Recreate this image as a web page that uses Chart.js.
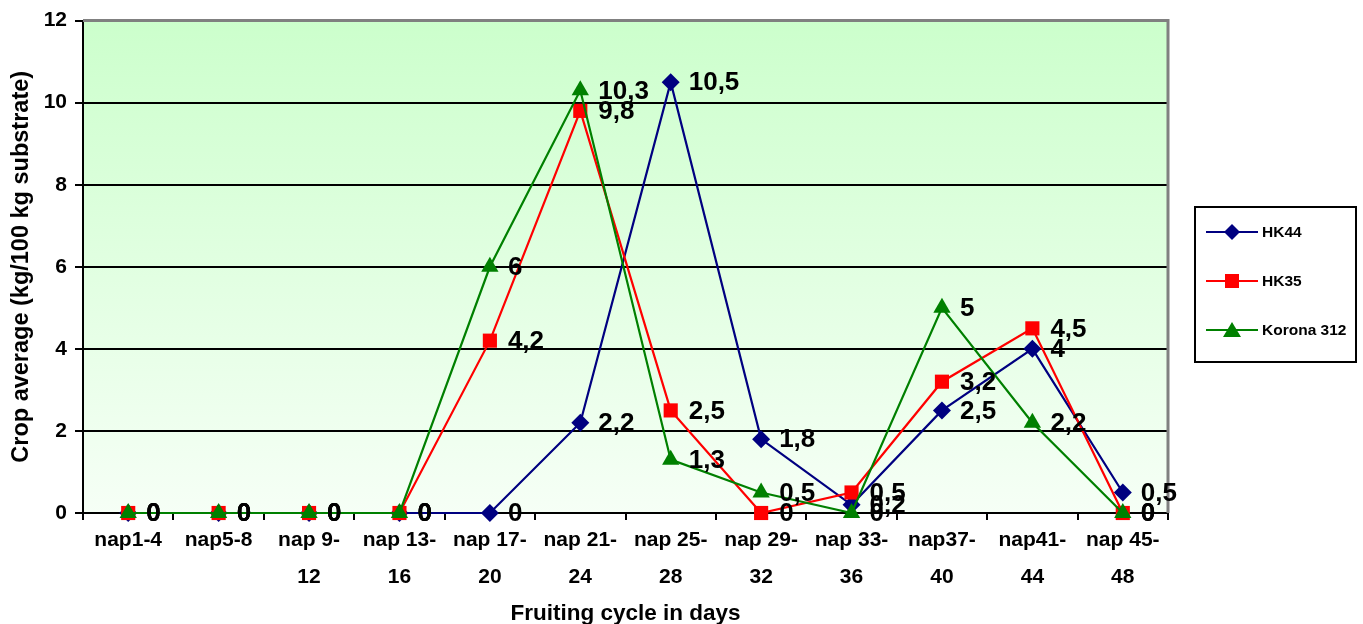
<!DOCTYPE html>
<html>
<head>
<meta charset="utf-8">
<script src="https://cdn.jsdelivr.net/npm/chart.js@4/dist/chart.umd.min.js"></script>
<style>
  html, body { margin: 0; padding: 0; background: #fff; }
  #wrap { width: 1363px; height: 624px; }
</style>
</head>
<body>
<div id="wrap"><canvas id="chart" width="1363" height="624"></canvas></div>
<script>
// data
const categories = [
    'nap1-4', 'nap5-8', ['nap 9-', '12'], ['nap 13-', '16'], ['nap 17-', '20'], ['nap 21-', '24'],
    ['nap 25-', '28'], ['nap 29-', '32'], ['nap 33-', '36'], ['nap37-', '40'], ['nap41-', '44'], ['nap 45-', '48']
];
const hk44 = [0, 0, 0, 0, 0, 2.2, 10.5, 1.8, 0.2, 2.5, 4, 0.5];
const hk35 = [0, 0, 0, 0, 4.2, 9.8, 2.5, 0, 0.5, 3.2, 4.5, 0];
const korona = [0, 0, 0, 0, 6, 10.3, 1.3, 0.5, 0, 5, 2.2, 0];
const yTicks = [0, 2, 4, 6, 8, 10, 12];

const FONT = "'Liberation Sans', Arial, sans-serif";

// plot background + grey frame on top/right
const plotBg = {
    id: 'plotBg',
    beforeDraw(chart) {
        const {ctx, chartArea: a} = chart;
        const g = ctx.createLinearGradient(0, a.top, 0, a.bottom);
        g.addColorStop(0, '#ccffcc');
        g.addColorStop(1, '#f6fff6');
        ctx.save();
        ctx.fillStyle = g;
        ctx.fillRect(a.left, a.top, a.right - a.left, a.bottom - a.top);
        ctx.restore();
    },
    beforeDatasetsDraw(chart) {
        const {ctx, chartArea: a} = chart;
        ctx.save();
        ctx.strokeStyle = '#808080';
        ctx.lineWidth = 3;
        ctx.beginPath();
        ctx.moveTo(a.left, a.top);
        ctx.lineTo(a.right, a.top);
        ctx.lineTo(a.right, a.bottom);
        ctx.stroke();
        ctx.restore();
    }
};

// value labels right of each point, comma decimals
const valueLabels = {
    id: 'valueLabels',
    afterDatasetsDraw(chart) {
        const ctx = chart.ctx;
        ctx.save();
        ctx.font = 'bold 26px ' + FONT;
        ctx.fillStyle = '#000';
        ctx.textAlign = 'left';
        ctx.textBaseline = 'middle';
        chart.data.datasets.forEach((ds, i) => {
            chart.getDatasetMeta(i).data.forEach((pt, j) => {
                const txt = String(ds.data[j]).replace('.', ',');
                ctx.fillText(txt, pt.x + 18, pt.y + 1);
            });
        });
        ctx.restore();
    }
};

// boxed legend on the right
const boxLegend = {
    id: 'boxLegend',
    afterDraw(chart) {
        const ctx = chart.ctx;
        const x0 = 1195, y0 = 207, w = 161, h = 155;
        ctx.save();
        ctx.fillStyle = '#fff';
        ctx.fillRect(x0, y0, w, h);
        ctx.strokeStyle = '#000';
        ctx.lineWidth = 2;
        ctx.strokeRect(x0, y0, w, h);
        const ys = [232, 281, 330];
        chart.data.datasets.forEach((ds, i) => {
            const y = ys[i];
            ctx.strokeStyle = ds.borderColor;
            ctx.lineWidth = 2;
            ctx.beginPath();
            ctx.moveTo(1206, y);
            ctx.lineTo(1258, y);
            ctx.stroke();
            ctx.fillStyle = ds.backgroundColor;
            const r = 8;
            ctx.beginPath();
            if (ds.pointStyle === 'rectRot') {
                ctx.moveTo(1232, y - r); ctx.lineTo(1232 + r, y); ctx.lineTo(1232, y + r); ctx.lineTo(1232 - r, y);
            } else if (ds.pointStyle === 'rect') {
                ctx.rect(1232 - 7, y - 7, 14, 14);
            } else {
                ctx.moveTo(1232, y - 8); ctx.lineTo(1241, y + 7); ctx.lineTo(1223, y + 7);
            }
            ctx.closePath();
            ctx.fill();
            ctx.fillStyle = '#000';
            ctx.font = 'bold 15.5px ' + FONT;
            ctx.textBaseline = 'middle';
            ctx.fillText(ds.label, 1262, y + 1);
        });
        ctx.restore();
    }
};

new Chart(document.getElementById('chart'), {
    type: 'line',
    data: {
        labels: categories,
        datasets: [
            { label: 'HK44', data: hk44, borderColor: '#000080', backgroundColor: '#000080',
              pointStyle: 'rectRot', pointRadius: 9, order: 3, clip: false },
            { label: 'HK35', data: hk35, borderColor: '#ff0000', backgroundColor: '#ff0000',
              pointStyle: 'rect', pointRadius: 10, order: 2, clip: false },
            { label: 'Korona 312', data: korona, borderColor: '#008000', backgroundColor: '#008000',
              pointStyle: 'triangle', pointRadius: 10, order: 1, clip: false }
        ]
    },
    options: {
        responsive: false,
        animation: false,
        events: [],
        elements: {
            line: { borderWidth: 2.2, tension: 0 },
            point: { borderWidth: 0 }
        },
        layout: { padding: { left: 0, right: 195, top: 20, bottom: 0 } },
        plugins: {
            legend: { display: false },
            tooltip: { enabled: false }
        },
        scales: {
            x: {
                offset: true,
                afterFit(s) { s.height = 111; },
                grid: { offset: true, drawOnChartArea: false, drawTicks: true, tickLength: 7,
                        color: '#000', lineWidth: 2 },
                border: { color: '#000', width: 2 },
                ticks: { color: '#000', maxRotation: 0, autoSkip: false, padding: 1,
                         font: { family: FONT, size: 21, weight: 'bold', lineHeight: 1.8 } },
                title: { display: true, text: 'Fruiting cycle in days', color: '#000',
                         padding: { top: 0, bottom: -3 },
                         font: { family: FONT, size: 22.5, weight: 'bold' } }
            },
            y: {
                min: 0, max: 12,
                afterFit(s) { s.width = 83; },
                afterBuildTicks(s) { s.ticks = yTicks.map(v => ({ value: v })); },
                grid: { color: ctx => ctx.tick && ctx.tick.value === 12 ? 'rgba(0,0,0,0)' : '#000',
                        tickColor: '#000', lineWidth: 2, tickLength: 8 },
                border: { color: '#000', width: 2 },
                ticks: { color: '#000', padding: 8,
                         font: { family: FONT, size: 21, weight: 'bold' } },
                title: { display: true, text: 'Crop average (kg/100 kg substrate)', color: '#000',
                         align: 'center',
                         padding: { top: 7, bottom: 0 },
                         font: { family: FONT, size: 23.5, weight: 'bold' } }
            }
        }
    },
    plugins: [plotBg, valueLabels, boxLegend]
});
</script>
</body>
</html>
